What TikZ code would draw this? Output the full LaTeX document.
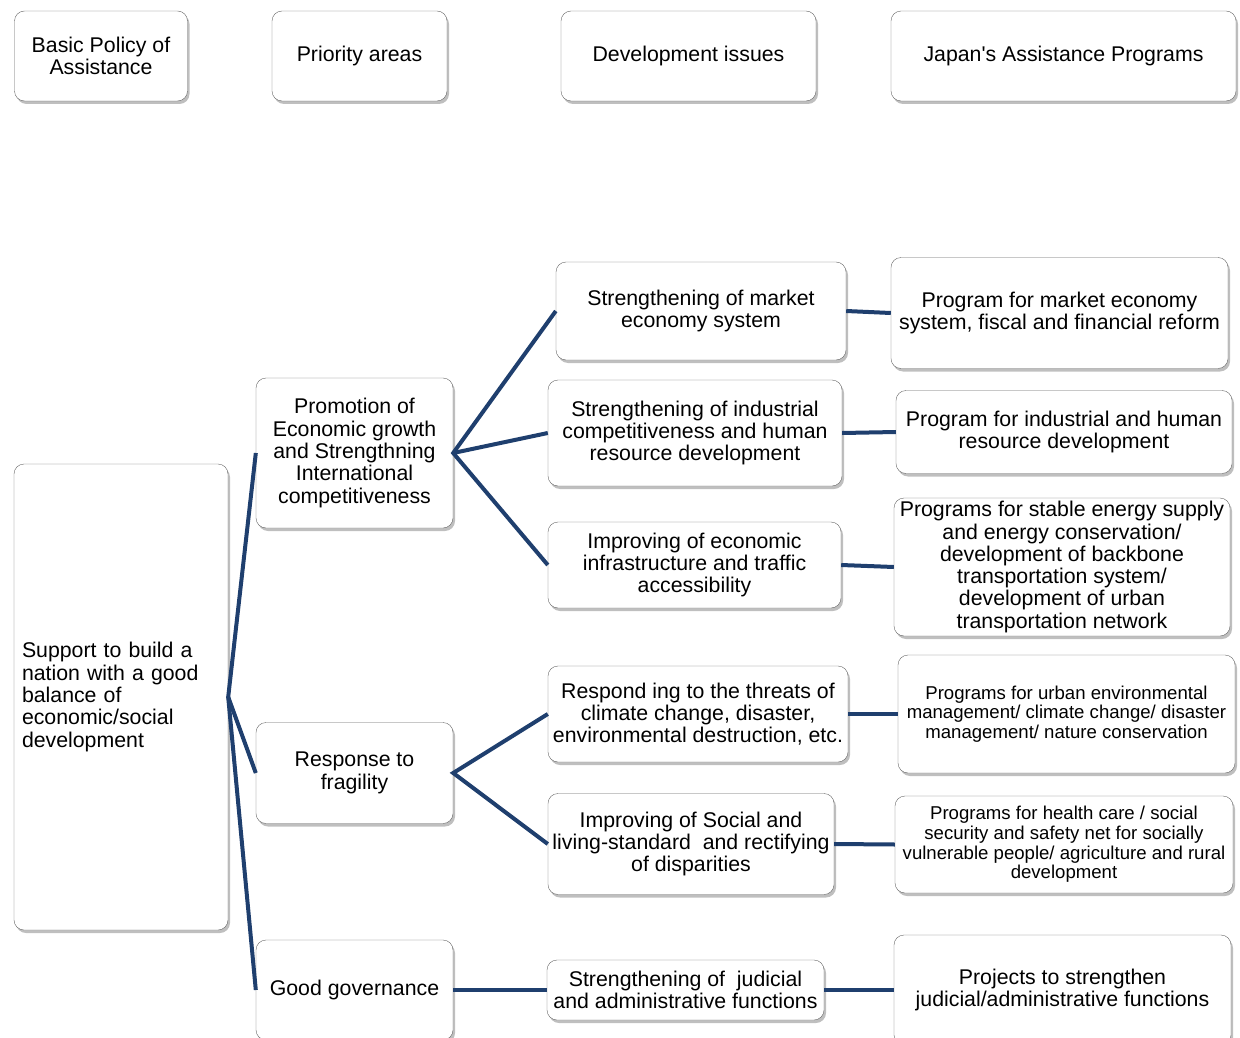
\documentclass[tikz,border=0pt]{standalone}
\usepackage{fontspec}
\setmainfont{Liberation Sans}
\usetikzlibrary{shadows}
\definecolor{linkblue}{HTML}{1F3F6E}
\tikzset{
  plan box/.style={
    rounded corners=10pt,
    draw=black!60,
    fill=white,
    align=center,
    inner sep=2pt,
    drop shadow={shadow xshift=2pt, shadow yshift=-3pt, opacity=.5},
    font=\fontsize{21.3}{22.3}\selectfont,
  },
  small box/.style={
    plan box,
    font=\fontsize{18.6}{19.6}\selectfont,
  },
  link/.style={
    draw=linkblue,
    line width=4pt,
  },
}

\begin{document}
\begin{tikzpicture}[x=1pt, y=-1pt]
        \useasboundingbox (0,0) rectangle (1240,1038);

        % column headers
        \node[plan box, minimum width=173pt, minimum height=90pt] (hpolicy) at (101,56) {Basic Policy of\\Assistance};
        \node[plan box, minimum width=175pt, minimum height=90pt] (hareas) at (359.5,56) {Priority areas};
        \node[plan box, minimum width=255pt, minimum height=90pt] (hissues) at (688.5,56) {Development issues};
        \node[plan box, minimum width=345pt, minimum height=90pt] (hprogs) at (1063.5,56) {Japan\textquotesingle s Assistance Programs};

        % basic policy
        \node[plan box, align=left, text width=198pt, inner xsep=8pt, minimum height=466pt] (policy) at (121,697)
          {Support to build a\\nation with a good\\balance of\\economic/social\\development};

        % priority areas
        \node[plan box, minimum width=197pt, minimum height=150pt] (area1) at (354.5,453)
          {Promotion of\\Economic growth\\and Strengthning\\International\\competitiveness};
        \node[plan box, minimum width=197pt, minimum height=101pt] (area2) at (354.5,773) {Response to\\fragility};
        \node[plan box, minimum width=197pt, minimum height=100pt] (area3) at (354.5,990) {Good governance};

        % development issues
        \node[plan box, minimum width=290pt, minimum height=98pt] (issue1) at (701,311) {Strengthening of market\\economy system};
        \node[plan box, minimum width=294pt, minimum height=106pt] (issue2) at (695,433)
          {Strengthening of industrial\\competitiveness and human\\resource development};
        \node[plan box, minimum width=293pt, minimum height=86pt] (issue3) at (694.5,565)
          {Improving of economic\\infrastructure and traffic\\accessibility};
        \node[plan box, minimum width=300pt, minimum height=96pt] (issue4) at (698,714)
          {Respond ing to the threats of\\climate change, disaster,\\environmental destruction, etc.};
        \node[plan box, minimum width=286pt, minimum height=101pt] (issue5) at (691,844)
          {Improving of Social and\\living-standard\ \ and rectifying\\of disparities};
        \node[plan box, minimum width=277pt, minimum height=60pt] (issue6) at (685.5,990)
          {Strengthening of\ \ judicial\\and administrative functions};

        % assistance programs
        \node[plan box, minimum width=337pt, minimum height=111pt] (prog1) at (1059.5,313)
          {Program for market economy\\system, fiscal and financial reform};
        \node[plan box, minimum width=336pt, minimum height=83pt] (prog2) at (1064,432)
          {Program for industrial and human\\resource development};
        \node[plan box, minimum width=336pt, minimum height=138pt] (prog3) at (1062,567)
          {Programs for stable energy supply\\and energy conservation/\\development of backbone\\transportation system/\\development of urban\\transportation network};
        \node[small box, minimum width=337pt, minimum height=118pt] (prog4) at (1066.5,714)
          {Programs for urban environmental\\management/ climate change/ disaster\\management/ nature conservation};
        \node[small box, minimum width=338pt, minimum height=97pt] (prog5) at (1064,844.5)
          {Programs for health care / social\\security and safety net for socially\\vulnerable people/ agriculture and rural\\development};
        \node[plan box, minimum width=337pt, minimum height=110pt] (prog6) at (1062.5,990)
          {Projects to strengthen\\judicial/administrative functions};

        % links
        \draw[link] (area1.west) -- (policy.east) -- (area2.west);
        \draw[link] (policy.east) -- (area3.west);
        \draw[link] (issue1.west) -- (area1.east) -- (issue3.west);
        \draw[link] (area1.east) -- (issue2.west);
        \draw[link] (issue4.west) -- (area2.east) -- (issue5.west);
        \draw[link] (area3.east) -- (issue6.west);
        \draw[link] (issue1.east) -- (prog1.west);
        \draw[link] (issue2.east) -- (prog2.west);
        \draw[link] (issue3.east) -- (prog3.west);
        \draw[link] (issue4.east) -- (prog4.west);
        \draw[link] (issue5.east) -- (prog5.west);
        \draw[link] (issue6.east) -- (prog6.west);
      \end{tikzpicture}
\end{document}
